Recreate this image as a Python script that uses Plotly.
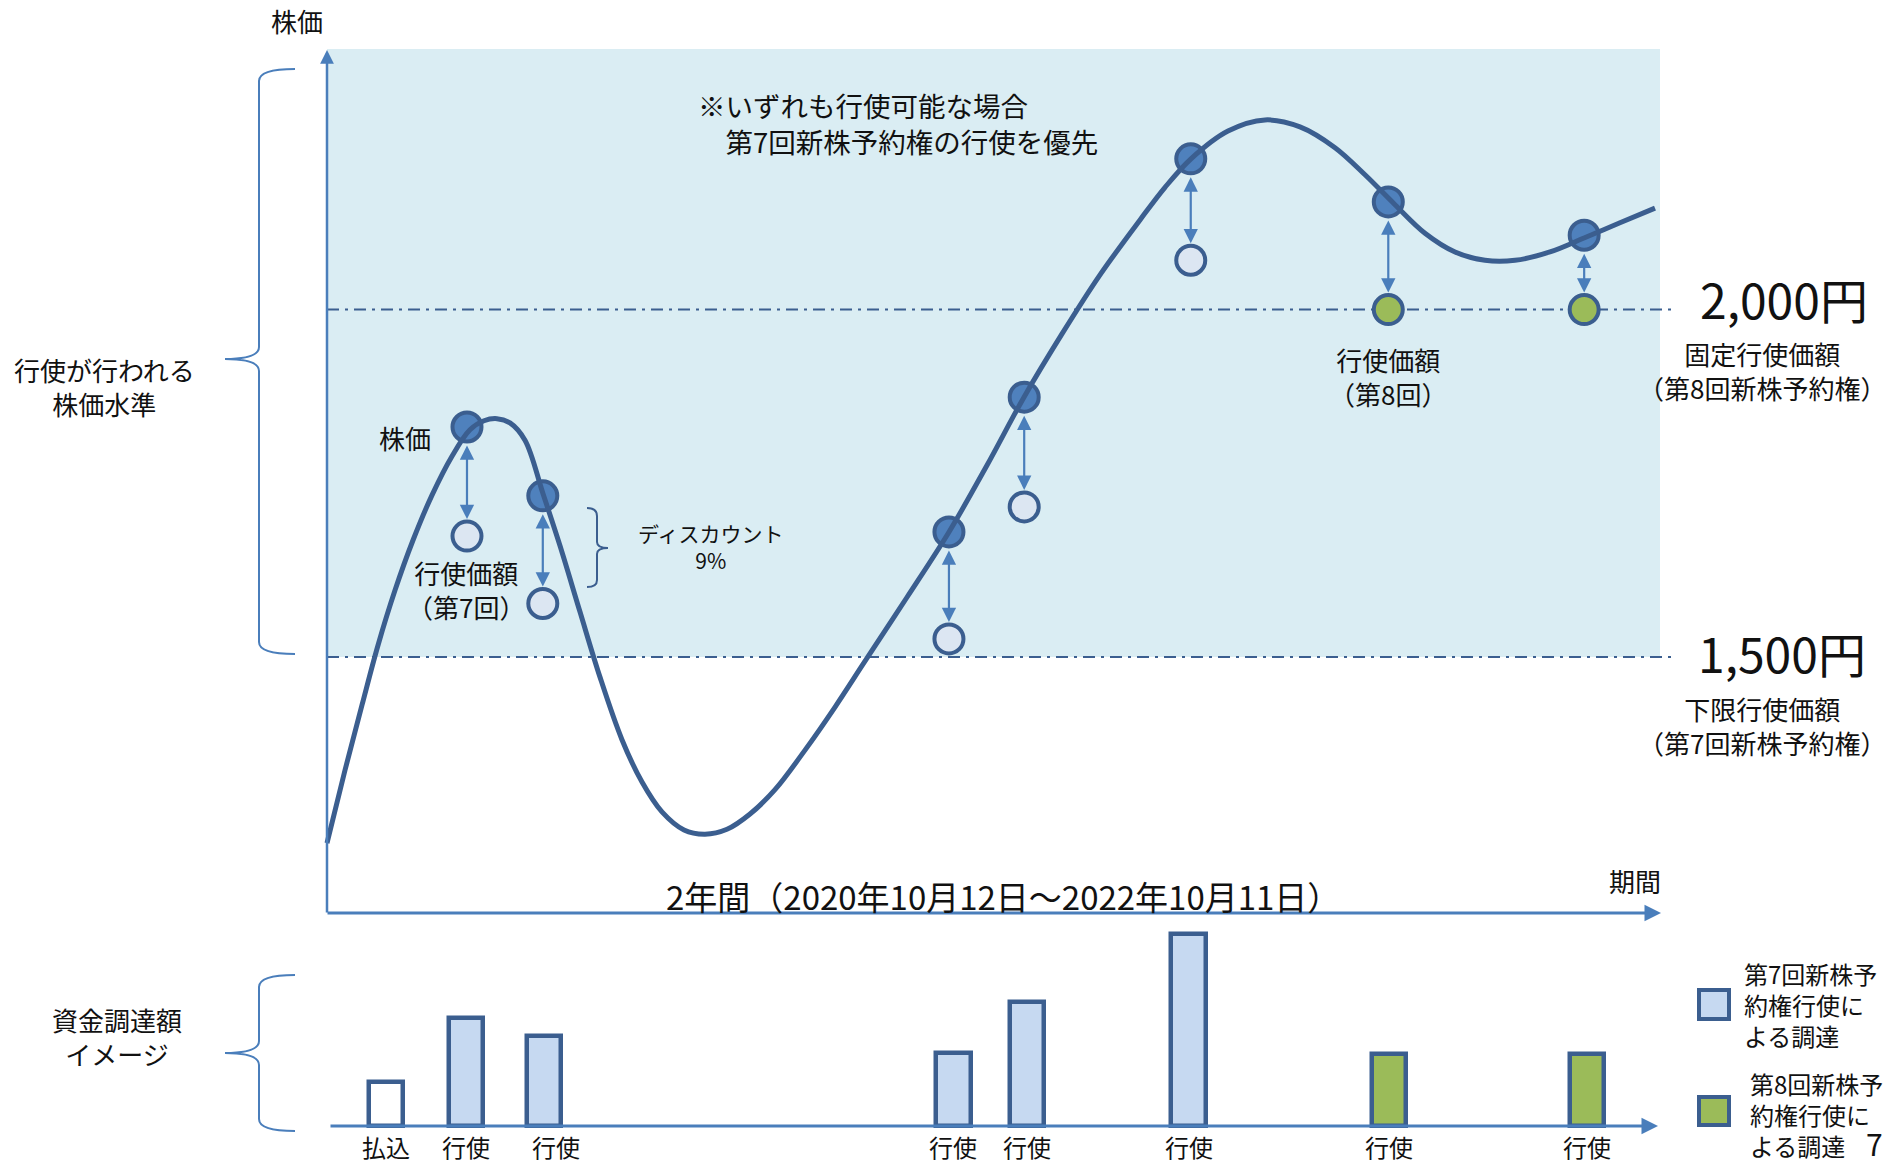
import plotly.graph_objects as go

# ---------------- data ----------------
# price curve (month index 0-24 over the 2-year period, share price in yen)
curve_t = [0.000, 0.325, 0.633, 0.922, 1.229, 1.554, 1.898, 2.259, 2.584, 2.837, 3.072, 3.307,
           3.578, 3.904, 4.211, 4.572, 4.934, 5.331, 5.693, 6.054, 6.452, 6.831, 7.229, 7.645,
           8.096, 8.639, 9.181, 9.723, 10.482, 11.241, 11.928, 12.596, 13.283, 13.970, 14.693,
           15.145, 15.614, 16.283, 16.952, 17.584, 18.217, 18.759, 19.301, 19.843, 20.386,
           20.928, 21.470, 22.102, 22.717, 23.367, 24.0]
curve_price = [1232, 1337, 1431, 1517, 1596, 1668, 1733, 1789, 1827, 1840, 1843, 1837,
               1812, 1735, 1660, 1565, 1471, 1381, 1320, 1277, 1251, 1245, 1252, 1274,
               1309, 1366, 1428, 1494, 1586, 1680, 1776, 1874, 1965, 2050, 2129,
               2176, 2217, 2257, 2273, 2263, 2233, 2194, 2151, 2110, 2083,
               2071, 2071, 2083, 2103, 2125, 2146]

# exercise events
ex_t = [2.53, 3.90, 11.24, 12.60, 15.61, 19.18, 22.72]
ex_stock_price = [1831, 1732, 1680, 1874, 2217, 2155, 2107]
ex_exercise_price = [1674, 1577, 1526, 1716, 2071, 2000, 2000]
ex_series = ["第7回", "第7回", "第7回", "第7回", "第7回", "第8回", "第8回"]

fixed_price = 2000   # 第8回 固定行使価額
floor_price = 1500   # 第7回 下限行使価額
zone_top_price = 2375

# funding image bars
bar_t = [1.07, 2.51, 3.92, 11.32, 12.65, 15.57, 19.19, 22.77]
bar_amount = [44, 108, 90, 73, 124, 192, 72, 72]
bar_kind = ["払込", "第7回", "第7回", "第7回", "第7回", "第7回", "第8回", "第8回"]
bar_labels = ["払込", "行使", "行使", "行使", "行使", "行使", "行使", "行使"]

# ---------------- layout calibration ----------------
W, H = 1889, 1165
T0_PX, T24_PX = 327, 1655
P2000_PY, P1500_PY = 309.6, 657.0
px_per_month = (T24_PX - T0_PX) / 24.0
px_per_yen = (P1500_PY - P2000_PY) / 500.0
x_range = [-T0_PX / px_per_month, (W - T0_PX) / px_per_month]
y_range = [2000 - (H - P2000_PY) / px_per_yen, 2000 + P2000_PY / px_per_yen]
BAR_BASE_PY = 1126
y2_range = [-(H - BAR_BASE_PY), BAR_BASE_PY]


def tx(px):
    return (px - T0_PX) / px_per_month


def py_price(py):
    return 2000 - (py - P2000_PY) / px_per_yen


def PX(x):
    return x / W


def PY(y):
    return 1 - y / H


FONT = "Noto Sans CJK JP"
LINE = "#3b5e8f"
AXIS = "#4a7ebb"
TXT = "#111111"

fig = go.Figure()

# bars
fill_map = {"払込": "#ffffff", "第7回": "#c6d9f1", "第8回": "#9bbb59"}
fig.add_trace(go.Bar(
    x=bar_t, y=bar_amount, yaxis="y2", width=0.62,
    marker=dict(color=[fill_map[k] for k in bar_kind], line=dict(color=LINE, width=4.5)),
    hoverinfo="skip"))

# stock price markers (under the curve)
fig.add_trace(go.Scatter(
    x=ex_t, y=ex_stock_price, mode="markers",
    marker=dict(size=29, color="#4f81bd", line=dict(color=LINE, width=4)),
    hoverinfo="skip"))

# curve
fig.add_trace(go.Scatter(
    x=curve_t, y=curve_price, mode="lines",
    line=dict(color=LINE, width=5, shape="spline", smoothing=1.0),
    hoverinfo="skip"))

# exercise price markers
ex_fill = {"第7回": "#dce6f2", "第8回": "#9bbb59"}
fig.add_trace(go.Scatter(
    x=ex_t, y=ex_exercise_price, mode="markers",
    marker=dict(size=29, color=[ex_fill[s] for s in ex_series], line=dict(color=LINE, width=4)),
    hoverinfo="skip"))

shapes = []
# shaded exercise zone
shapes.append(dict(type="rect", xref="x", yref="y", x0=0, x1=tx(1660), y0=floor_price, y1=zone_top_price,
                   fillcolor="#daedf3", line=dict(width=0), layer="below"))
# threshold lines
for p in (fixed_price, floor_price):
    shapes.append(dict(type="line", xref="x", yref="y", x0=0, x1=tx(1676), y0=p, y1=p,
                       line=dict(color=LINE, width=2, dash="12px,6px,3px,6px"), layer="below"))


def brace_left(xtip, xsp, xpt, ytop, ymid, ybot, r=12):
    path = (f"M {PX(xtip)} {PY(ytop)} Q {PX(xsp)} {PY(ytop)} {PX(xsp)} {PY(ytop + r)} "
            f"L {PX(xsp)} {PY(ymid - r)} Q {PX(xsp)} {PY(ymid)} {PX(xpt)} {PY(ymid)} "
            f"Q {PX(xsp)} {PY(ymid)} {PX(xsp)} {PY(ymid + r)} "
            f"L {PX(xsp)} {PY(ybot - r)} Q {PX(xsp)} {PY(ybot)} {PX(xtip)} {PY(ybot)}")
    return dict(type="path", xref="paper", yref="paper", path=path, line=dict(color=AXIS, width=2))


shapes.append(brace_left(295, 259, 225, 69, 359, 654))
shapes.append(brace_left(295, 259, 225, 975, 1053, 1131))
# small discount bracket (opening left)
sb = (f"M {PX(587)} {PY(508)} Q {PX(597)} {PY(508)} {PX(597)} {PY(516)} L {PX(597)} {PY(542)} "
      f"Q {PX(597)} {PY(548)} {PX(608)} {PY(548)} Q {PX(597)} {PY(548)} {PX(597)} {PY(554)} "
      f"L {PX(597)} {PY(580)} Q {PX(597)} {PY(587)} {PX(587)} {PY(587)}")
shapes.append(dict(type="path", xref="paper", yref="paper", path=sb, line=dict(color=LINE, width=2)))

# legend squares
for (y0, y1, col) in ((990, 1019, "#c6d9f1"), (1097, 1125, "#9bbb59")):
    shapes.append(dict(type="rect", xref="paper", yref="paper", x0=PX(1699), x1=PX(1729),
                       y0=PY(y1), y1=PY(y0), fillcolor=col, line=dict(color=LINE, width=4)))

annotations = []

# axes arrows
annotations.append(dict(xref="x", yref="y", axref="x", ayref="y", x=0, y=py_price(50), ax=0,
                        ay=py_price(914), showarrow=True, arrowhead=2, arrowsize=1.1,
                        arrowwidth=2.5, arrowcolor=AXIS, text=""))
annotations.append(dict(xref="x", yref="y", axref="x", ayref="y", x=tx(1661), y=py_price(913),
                        ax=tx(326), ay=py_price(913), showarrow=True, arrowhead=2, arrowsize=1.1,
                        arrowwidth=3, arrowcolor=AXIS, text=""))
annotations.append(dict(xref="x", yref="y2", axref="x", ayref="y2", x=tx(1658), y=0,
                        ax=tx(329), ay=0, showarrow=True, arrowhead=2, arrowsize=1.1,
                        arrowwidth=3, arrowcolor=AXIS, text=""))

# double arrows between stock price and exercise price
for t, sp, ep in zip(ex_t, ex_stock_price, ex_exercise_price):
    annotations.append(dict(xref="x", yref="y", axref="x", ayref="y", x=t, y=ep, ax=t, ay=sp,
                            showarrow=True, arrowside="end+start", arrowhead=2, startarrowhead=2,
                            arrowsize=1.3, startarrowsize=1.3, arrowwidth=2.2, arrowcolor=AXIS,
                            standoff=17, startstandoff=17, text=""))


def txt(x, y, s, size, xanchor="center", align="center", color=TXT):
    annotations.append(dict(xref="paper", yref="paper", x=PX(x), y=PY(y), text=s, showarrow=False,
                            xanchor=xanchor, yanchor="middle", align=align,
                            font=dict(family=FONT, size=size, color=color)))


txt(297, 21, "株価", 26)
txt(104, 386, "行使が行われる<br>株価水準", 26)
txt(117, 1036, "資金調達額<br>イメージ", 26)
txt(696, 123, "※いずれも行使可能な場合<br>　第7回新株予約権の行使を優先", 27.5, xanchor="left", align="left")
txt(405, 438, "株価", 26)
txt(466, 589, "行使価額<br>（第7回）", 26)
txt(711, 546, "ディスカウント<br>9%", 21)
txt(1388, 376, "行使価額<br>（第8回）", 26)
txt(1784, 298, "2,000円", 48)
txt(1762, 370, "固定行使価額<br>（第8回新株予約権）", 26)
txt(1782, 652, "1,500円", 48)
txt(1762, 725, "下限行使価額<br>（第7回新株予約権）", 26)
txt(1003, 896, "2年間（2020年10月12日～2022年10月11日）", 33)
txt(1635, 880, "期間", 26)
txt(1742, 1004, "第7回新株予<br>約権行使に<br>よる調達", 24, xanchor="left", align="left")
txt(1748, 1114, "第8回新株予<br>約権行使に<br>よる調達", 24, xanchor="left", align="left")
txt(1874, 1143, "7", 30)

label_shift = [0, 0, 12, 0, 0, 0, 0, 0]
for t, lab, sh in zip(bar_t, bar_labels, label_shift):
    annotations.append(dict(xref="x", yref="paper", x=t, y=PY(1146), text=lab, showarrow=False,
                            xanchor="center", yanchor="middle", xshift=sh,
                            font=dict(family=FONT, size=24, color=TXT)))

fig.update_layout(
    width=W, height=H, margin=dict(l=0, r=0, t=0, b=0),
    paper_bgcolor="white", plot_bgcolor="white", showlegend=False,
    xaxis=dict(range=x_range, visible=False, fixedrange=True),
    yaxis=dict(range=y_range, visible=False, fixedrange=True),
    yaxis2=dict(range=y2_range, visible=False, overlaying="y", fixedrange=True),
    shapes=shapes, annotations=annotations, bargap=0,
)

fig.write_html("out.html", config={"displayModeBar": False})
